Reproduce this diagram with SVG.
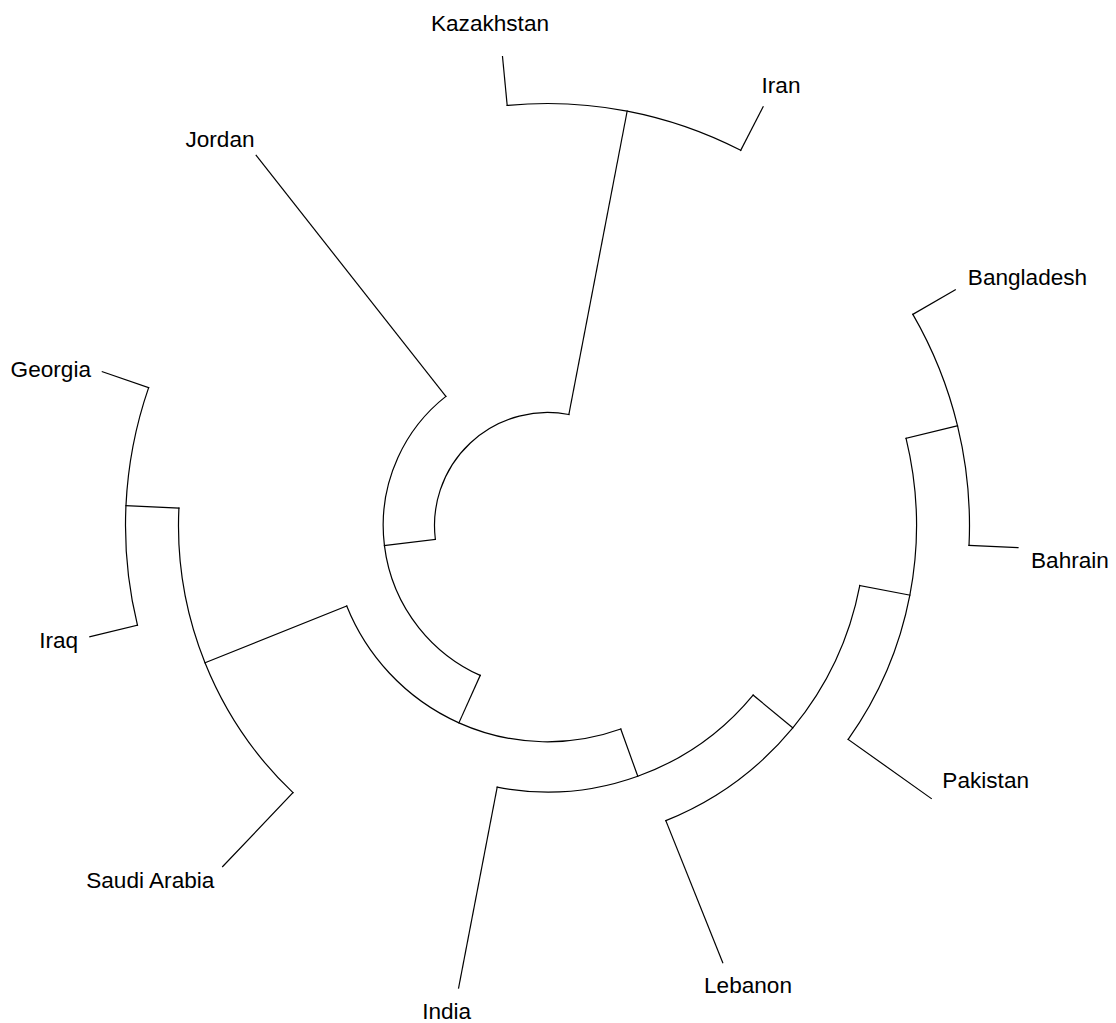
<svg xmlns="http://www.w3.org/2000/svg" width="1116" height="1023" viewBox="0 0 1116 1023">
<style>
.e{fill:none;stroke:#000;stroke-width:1.2;stroke-linecap:square}
.l{font-family:"Liberation Sans",Arial,sans-serif;font-size:22.6px;fill:#000;text-anchor:middle}
</style>
<rect width="1116" height="1023" fill="#fff"/>
<g id="connectors">
<path class="e" d="M435.35,539.30 A113,113 0 0 1 568.83,414.53"/>
<path class="e" d="M435.35,539.30 L384.43,545.57"/>
<path class="e" d="M568.83,414.53 L627.17,111.09"/>
<path class="e" d="M507.19,105.43 A422,422 0 0 1 740.69,150.32"/>
<path class="e" d="M507.19,105.43 L502.51,56.65"/>
<path class="e" d="M740.69,150.32 L763.12,106.75"/>
<path class="e" d="M480.21,675.39 A164.3,164.3 0 0 1 445.88,396.40"/>
<path class="e" d="M445.88,396.40 L256.17,155.41"/>
<path class="e" d="M480.21,675.39 L458.91,722.83"/>
<path class="e" d="M620.77,729.01 A216.3,216.3 0 0 1 346.73,605.99"/>
<path class="e" d="M620.77,729.01 L637.77,776.24"/>
<path class="e" d="M346.73,605.99 L205.00,662.80"/>
<path class="e" d="M292.99,792.69 A369,369 0 0 1 178.91,508.12"/>
<path class="e" d="M292.99,792.69 L222.63,866.54"/>
<path class="e" d="M178.91,508.12 L125.97,505.62"/>
<path class="e" d="M137.45,625.18 A422,422 0 0 1 148.64,387.66"/>
<path class="e" d="M137.45,625.18 L89.83,636.76"/>
<path class="e" d="M148.64,387.66 L102.33,371.66"/>
<path class="e" d="M753.09,695.08 A266.5,266.5 0 0 1 497.19,787.21"/>
<path class="e" d="M497.19,787.21 L458.58,988.03"/>
<path class="e" d="M753.09,695.08 L792.81,727.85"/>
<path class="e" d="M859.78,585.54 A318,318 0 0 1 665.83,820.66"/>
<path class="e" d="M665.83,820.66 L722.76,962.68"/>
<path class="e" d="M859.78,585.54 L909.87,595.16"/>
<path class="e" d="M906.05,438.33 A369,369 0 0 1 848.18,739.39"/>
<path class="e" d="M848.18,739.39 L931.29,798.52"/>
<path class="e" d="M906.05,438.33 L957.55,425.82"/>
<path class="e" d="M912.86,314.33 A422,422 0 0 1 969.03,545.38"/>
<path class="e" d="M912.86,314.33 L955.29,289.81"/>
<path class="e" d="M969.03,545.38 L1017.98,547.69"/>
</g>
<g id="node-kazakhstan"><text class="l" x="490" y="31">Kazakhstan</text></g>
<g id="node-iran"><text class="l" x="781" y="93">Iran</text></g>
<g id="node-bangladesh"><text class="l" x="1027.5" y="285">Bangladesh</text></g>
<g id="node-bahrain"><text class="l" x="1070" y="568">Bahrain</text></g>
<g id="node-pakistan"><text class="l" x="985.7" y="788">Pakistan</text></g>
<g id="node-lebanon"><text class="l" x="748" y="993">Lebanon</text></g>
<g id="node-india"><text class="l" x="446.7" y="1019">India</text></g>
<g id="node-saudi-arabia"><text class="l" x="150.3" y="888">Saudi Arabia</text></g>
<g id="node-iraq"><text class="l" x="58.7" y="648">Iraq</text></g>
<g id="node-georgia"><text class="l" x="50.8" y="377">Georgia</text></g>
<g id="node-jordan"><text class="l" x="220" y="147">Jordan</text></g>
</svg>
